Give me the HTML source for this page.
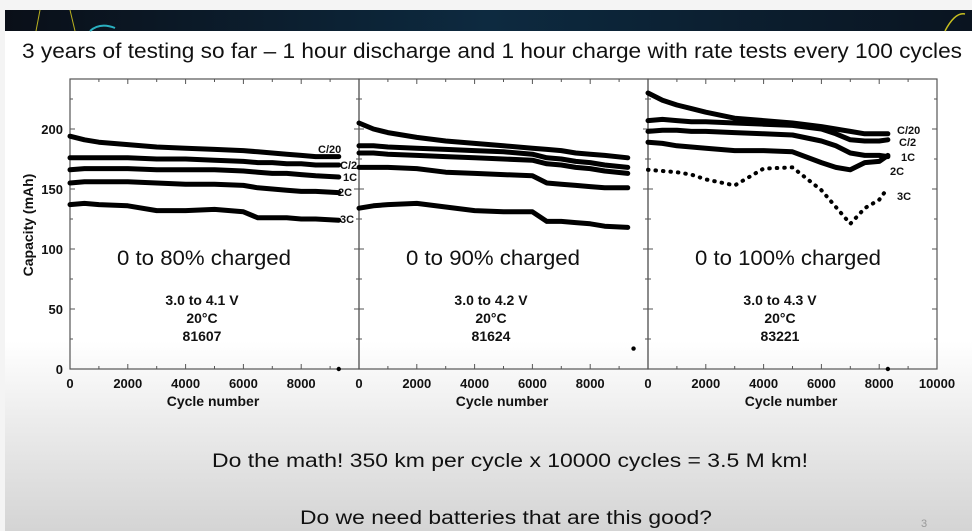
<!DOCTYPE html>
<html><head><meta charset="utf-8">
<style>
html,body{margin:0;padding:0;background:#f4f4f4;}
svg{display:block;font-family:"Liberation Sans",sans-serif;}
</style></head>
<body>
<svg id="slide" width="972" height="531" viewBox="0 0 972 531" xmlns="http://www.w3.org/2000/svg">
<defs>
<linearGradient id="bg" x1="0" y1="0" x2="0" y2="1">
<stop offset="0" stop-color="#ffffff"/><stop offset="0.62" stop-color="#ffffff"/><stop offset="0.78" stop-color="#ececec"/><stop offset="1" stop-color="#d4d4d4"/>
</linearGradient>
<linearGradient id="ban" x1="0" y1="0" x2="1" y2="0">
<stop offset="0" stop-color="#0a0f18"/><stop offset="0.5" stop-color="#0d2a40"/><stop offset="1" stop-color="#0a1420"/>
</linearGradient>
</defs>
<rect x="0" y="0" width="972" height="531" fill="#f4f4f4"/>
<rect x="5" y="31" width="967" height="500" fill="url(#bg)"/>
<g>
<rect x="5" y="10" width="967" height="21" fill="url(#ban)"/>
<path d="M40 10 L36 31 M70 10 L75 31" stroke="#b8b020" stroke-width="1" fill="none"/>
<path d="M90 31 Q100 22 115 28" stroke="#2ab0c0" stroke-width="2" fill="none"/>
<path d="M945 31 Q955 12 965 14" stroke="#c8c020" stroke-width="1.5" fill="none"/>
</g>
<text x="22" y="58" font-size="21" fill="#111" textLength="940" lengthAdjust="spacingAndGlyphs">3 years of testing so far – 1 hour discharge and 1 hour charge with rate tests every 100 cycles</text>
<g id="charts"></g>
<text transform="translate(33,225) rotate(-90)" text-anchor="middle" font-size="14" font-weight="bold" fill="#111">Capacity (mAh)</text>
<text x="212" y="467" font-size="19" fill="#111" textLength="596" lengthAdjust="spacingAndGlyphs">Do the math!  350 km per cycle x 10000 cycles = 3.5 M km!</text>
<text x="300" y="524" font-size="19" fill="#111" textLength="412" lengthAdjust="spacingAndGlyphs">Do we need batteries that are this good?</text>
<text x="921" y="527" font-size="11" fill="#999">3</text>
</svg>
<script>
const cycles = [0, 500, 1000, 2000, 3000, 4000, 5000, 6000, 6500, 7000, 7500, 8000, 8500, 9300];
const cycles3 = [0, 500, 1000, 1500, 2000, 3000, 4000, 5000, 6000, 6500, 7000, 7500, 8000, 8300];
const seriesNames = ["C/20", "C/2", "1C", "2C", "3C"];
const panel1 = [
  [194, 191, 189, 187, 185, 184, 183, 182, 181, 180, 179, 178, 177, 177],
  [176, 176, 176, 176, 175, 175, 174, 173, 172, 172, 171, 171, 170, 170],
  [166, 167, 167, 167, 166, 166, 166, 165, 164, 163, 163, 162, 161, 160],
  [155, 156, 156, 156, 155, 154, 154, 153, 151, 150, 149, 148, 148, 147],
  [137, 138, 137, 136, 132, 132, 133, 131, 126, 126, 126, 125, 125, 124]
];
const panel2 = [
  [205, 200, 197, 193, 190, 188, 186, 184, 183, 182, 180, 179, 178, 176],
  [186, 186, 185, 184, 183, 182, 181, 179, 176, 175, 173, 172, 170, 168],
  [180, 180, 179, 178, 177, 176, 175, 174, 171, 170, 168, 167, 165, 163],
  [168, 168, 168, 167, 164, 163, 162, 161, 155, 154, 153, 152, 151, 151],
  [134, 136, 137, 138, 135, 132, 131, 131, 123, 123, 122, 121, 119, 118]
];
const panel3 = [
  [230, 224, 220, 217, 214, 209, 207, 205, 202, 200, 198, 196, 196, 196],
  [207, 208, 207, 206, 206, 205, 204, 203, 200, 196, 191, 190, 190, 191],
  [198, 199, 199, 198, 198, 197, 196, 195, 190, 186, 180, 178, 178, 177],
  [189, 188, 186, 185, 184, 182, 182, 181, 172, 168, 166, 172, 173, 178],
  [166, 165, 164, 162, 158, 153, 167, 168, 149, 135, 121, 134, 141, 151]
];
const strayPoints = [[9300, 0], [9500, 17], [8300, 0]];
const yTicks = [0, 50, 100, 150, 200];
const xTickLabels12 = ["0", "2000", "4000", "6000", "8000"];
const xTickLabels3 = ["0", "2000", "4000", "6000", "8000", "10000"];
const panelTitles = ["0 to 80% charged", "0 to 90% charged", "0 to 100% charged"];
const panelInfo = [["3.0 to 4.1 V", "20°C", "81607"], ["3.0 to 4.2 V", "20°C", "81624"], ["3.0 to 4.3 V", "20°C", "83221"]];

const NS = "http://www.w3.org/2000/svg";
const root = document.getElementById("charts");
const panelX = [70, 359, 648];
const W = 289, TOP = 79, BOT = 369;
function yS(v){ return BOT - v * 1.2; }
function mk(tag, attrs, parent){ const e = document.createElementNS(NS, tag); for (const k in attrs) e.setAttribute(k, attrs[k]); parent.appendChild(e); return e; }

const allData = [panel1, panel2, panel3];
const allCycles = [cycles, cycles, cycles3];
// label anchor layout (annotation placement, not data)
const labelPos = [
  [[318,153],[340,169],[343,181],[338,196],[340,223]],
  null,
  [[897,134],[899,146],[901,161],[890,175],[897,200]]
];

for (let p = 0; p < 3; p++) {
  const x0 = panelX[p];
  const xS = c => x0 + c * W / 10000;
  const g = mk("g", {}, root);
  
  
  const frame = mk("rect", {x: x0, y: TOP, width: W, height: BOT - TOP, fill: "none", stroke: "#555", "stroke-width": 1.2}, g);
  
  
  for (let t = 0; t <= 10000; t += 1000) {
    const x = xS(t), len = t % 2000 === 0 ? 5 : 3;
    mk("line", {x1: x, x2: x, y1: BOT, y2: BOT - len, stroke: "#555"}, g);
    mk("line", {x1: x, x2: x, y1: TOP, y2: TOP + len, stroke: "#555"}, g);
  }
  for (let v = 0; v <= 240; v += 25) {
    const y = yS(v), len = v % 50 === 0 ? 5 : 3;
    mk("line", {x1: x0, x2: x0 + len, y1: y, y2: y, stroke: "#555"}, g);
    mk("line", {x1: x0 + W, x2: x0 + W - len, y1: y, y2: y, stroke: "#555"}, g);
  }
  const labs = p === 2 ? xTickLabels3 : xTickLabels12;
  labs.forEach((l, i) => {
    const t = mk("text", {x: xS(i * 2000), y: 388, "text-anchor": "middle", "font-size": 13, "font-weight": "bold", fill: "#111"}, g);
    
    
    t.textContent = l;
  });
  const xt = mk("text", {x: x0 + 143, y: 406, "text-anchor": "middle", "font-size": 14, "font-weight": "bold", fill: "#111"}, g);
  
  
  xt.textContent = "Cycle number";
  const cyc = allCycles[p];
  allData[p].forEach((vals, s) => {
    const pts = vals.map((v, i) => xS(cyc[i]) + "," + yS(v)).join(" ");
    const dotted = p === 2 && s === 4;
    const pl = mk("polyline", {points: pts, fill: "none", stroke: "#000", "stroke-width": dotted ? 4 : 5, "stroke-linejoin": "round", "stroke-linecap": "round", "stroke-dasharray": dotted ? "0.5 7" : "none"}, g);
    
    
    if (labelPos[p]) {
      const lb = mk("text", {x: labelPos[p][s][0], y: labelPos[p][s][1], "font-size": 11, "font-weight": "bold", fill: "#111"}, g);
      
      
      lb.textContent = seriesNames[s];
    }
  });
  const sp = mk("circle", {cx: xS(strayPoints[p][0]), cy: yS(strayPoints[p][1]), r: 2.2, fill: "#000"}, g);
  
  
  const pt = mk("text", {x: x0 + 47, y: 265, "font-size": 21, fill: "#111", textLength: p === 2 ? 186 : 174, lengthAdjust: "spacingAndGlyphs"}, g);
  
  
  pt.textContent = panelTitles[p];
  panelInfo[p].forEach((l, i) => {
    const it = mk("text", {x: x0 + 132, y: 305 + i * 18, "text-anchor": "middle", "font-size": 14, "font-weight": "bold", fill: "#111"}, g);
    
    
    it.textContent = l;
  });
}
yTicks.forEach(v => {
  const t = mk("text", {x: 63, y: yS(v) + 5, "text-anchor": "end", "font-size": 13, "font-weight": "bold", fill: "#111"}, root);
  
  
  t.textContent = v;
});
</script>
</body></html>
